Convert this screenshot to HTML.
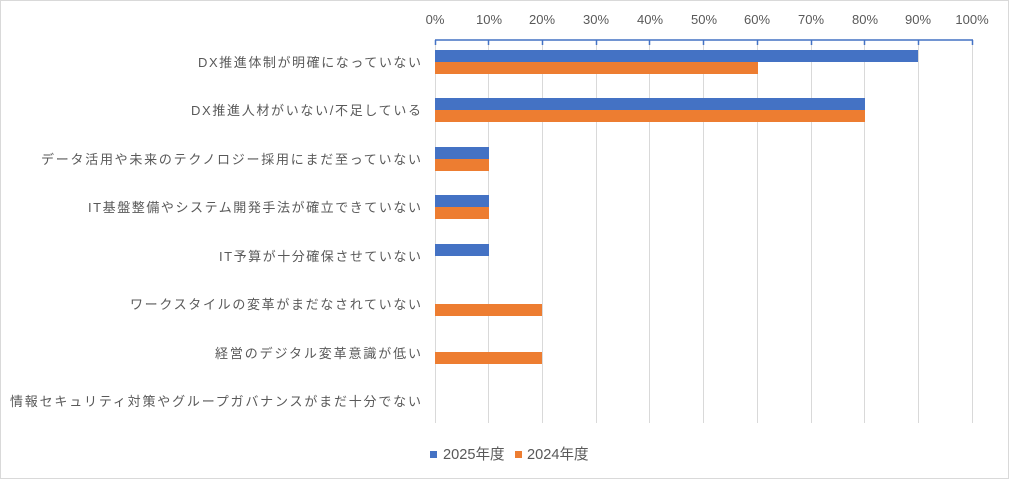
<!DOCTYPE html><html><head><meta charset="utf-8"><style>body{margin:0;background:#fff}svg{display:block}text{font-family:"Liberation Sans","Noto Sans CJK JP",sans-serif;fill:#595959;font-size:13px}.c{font-size:14.6px}</style></head><body>
<svg width="1009" height="479" viewBox="0 0 1009 479">
<rect x="0.5" y="0.5" width="1008" height="478" fill="#fff" stroke="#d9d9d9"/>
<g stroke="#d9d9d9" stroke-width="1">
<line x1="488.5" y1="40" x2="488.5" y2="423"/><line x1="542.5" y1="40" x2="542.5" y2="423"/><line x1="596.5" y1="40" x2="596.5" y2="423"/><line x1="649.5" y1="40" x2="649.5" y2="423"/><line x1="703.5" y1="40" x2="703.5" y2="423"/><line x1="757.5" y1="40" x2="757.5" y2="423"/><line x1="811.5" y1="40" x2="811.5" y2="423"/><line x1="864.5" y1="40" x2="864.5" y2="423"/><line x1="918.5" y1="40" x2="918.5" y2="423"/><line x1="972.5" y1="40" x2="972.5" y2="423"/><line x1="435.5" y1="40" x2="435.5" y2="423"/>
</g>
<g fill="#4472c4">
<rect x="435" y="50" width="483" height="12"/><rect x="435" y="98" width="430" height="12"/><rect x="435" y="147" width="54" height="12"/><rect x="435" y="195" width="54" height="12"/><rect x="435" y="244" width="54" height="12"/>
</g>
<g fill="#ed7d31">
<rect x="435" y="62" width="323" height="12"/><rect x="435" y="110" width="430" height="12"/><rect x="435" y="159" width="54" height="12"/><rect x="435" y="207" width="54" height="12"/><rect x="435" y="304" width="107" height="12"/><rect x="435" y="352" width="107" height="12"/>
</g>
<g stroke="#4472c4" stroke-width="1.5"><line x1="435" y1="40" x2="973" y2="40"/>
<path d="M435.5 40v5M488.5 40v5M542.5 40v5M596.5 40v5M649.5 40v5M703.5 40v5M757.5 40v5M811.5 40v5M864.5 40v5M918.5 40v5M972.5 40v5" fill="none"/></g>
<g text-anchor="middle"><text x="435" y="24">0%</text><text x="489" y="24">10%</text><text x="542" y="24">20%</text><text x="596" y="24">30%</text><text x="650" y="24">40%</text><text x="704" y="24">50%</text><text x="757" y="24">60%</text><text x="811" y="24">70%</text><text x="865" y="24">80%</text><text x="918" y="24">90%</text><text x="972" y="24">100%</text></g>
<g class="c" lengthAdjust="spacing">
<text x="198" y="67" textLength="223">DX推進体制が明確になっていない</text>
<text x="191" y="115" textLength="230">DX推進人材がいない/不足している</text>
<text x="41" y="164" textLength="380">データ活用や未来のテクノロジー採用にまだ至っていない</text>
<text x="88" y="212" textLength="333">IT基盤整備やシステム開発手法が確立できていない</text>
<text x="219" y="261" textLength="202">IT予算が十分確保させていない</text>
<text x="130" y="309" textLength="291">ワークスタイルの変革がまだなされていない</text>
<text x="215" y="358" textLength="206">経営のデジタル変革意識が低い</text>
<text x="10" y="406" textLength="411">情報セキュリティ対策やグループガバナンスがまだ十分でない</text>
</g>
<rect x="430" y="451" width="7" height="7" fill="#4472c4"/><text x="443" y="459" class="c">2025年度</text>
<rect x="515" y="451" width="7" height="7" fill="#ed7d31"/><text x="527" y="459" class="c">2024年度</text>
</svg></body></html>
